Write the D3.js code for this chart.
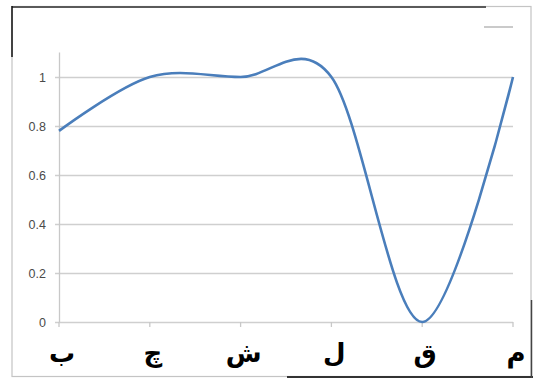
<!DOCTYPE html>
<html><head><meta charset="utf-8">
<script src="https://cdn.jsdelivr.net/npm/d3@7"></script>
<style>html,body{margin:0;padding:0;background:#fff;}svg{display:block;}</style>
</head><body>
<svg id="c" width="533" height="379"></svg>
<script>
const categories = ["ب", "چ", "ش", "ل", "ق", "م"];
const values = [0.78, 1, 1, 1, 0, 1];
const yTicks = [0, 0.2, 0.4, 0.6, 0.8, 1];

const svg = d3.select("#c");
const W = 533, H = 379;

// frame
svg.append("rect").attr("x", 12).attr("y", 6.5).attr("width", 519).attr("height", 370)
  .attr("fill", "none").attr("stroke", "#c4c4c4").attr("stroke-width", 1.2);
svg.append("line").attr("x1", 12).attr("x2", 486).attr("y1", 7).attr("y2", 7)
  .attr("stroke", "#5a5a5a").attr("stroke-width", 2);
svg.append("line").attr("x1", 12).attr("x2", 12).attr("y1", 6).attr("y2", 57)
  .attr("stroke", "#111").attr("stroke-width", 1.5);
svg.append("line").attr("x1", 287).attr("x2", 533).attr("y1", 377).attr("y2", 377)
  .attr("stroke", "#333").attr("stroke-width", 2);
svg.append("line").attr("x1", 531.5).attr("x2", 531.5).attr("y1", 300).attr("y2", 378)
  .attr("stroke", "#444").attr("stroke-width", 1.5);

const x = d3.scalePoint().domain(categories).range([59, 513]);
const y = d3.scaleLinear().domain([0, 1.1]).range([322, 52.5]);

// gridlines
svg.append("g").selectAll("line").data(yTicks).join("line")
  .attr("x1", 55).attr("x2", 513)
  .attr("y1", d => Math.round(y(d)) + 0.5).attr("y2", d => Math.round(y(d)) + 0.5)
  .attr("stroke", "#cfcfcf").attr("stroke-width", 1.3);

// y axis line
svg.append("line").attr("x1", 59.5).attr("x2", 59.5).attr("y1", y(1.1)).attr("y2", y(0))
  .attr("stroke", "#c8c8c8").attr("stroke-width", 1.3);

// y labels
svg.append("g").selectAll("text").data(yTicks).join("text")
  .attr("x", 46).attr("y", d => y(d) + 4.5)
  .attr("text-anchor", "end")
  .attr("font-family", "Liberation Sans, Arial, sans-serif")
  .attr("font-size", 12.5).attr("fill", "#4a4a4a")
  .text(d => d3.format("~g")(d));

// x ticks
svg.append("g").selectAll("line").data(categories).join("line")
  .attr("x1", d => x(d)).attr("x2", d => x(d))
  .attr("y1", y(0)).attr("y2", y(0) + 5)
  .attr("stroke", "#c8c8c8").attr("stroke-width", 1.3);

// x labels
svg.append("g").selectAll("text").data(categories).join("text")
  .attr("x", d => x(d) + 3).attr("y", 362)
  .attr("text-anchor", "middle")
  .attr("font-family", "DejaVu Sans, sans-serif")
  .attr("font-weight", "bold")
  .attr("font-size", 26).attr("fill", "#000")
  .text(d => d);

// series line
const line = d3.line()
  .x((d, i) => x(categories[i]))
  .y(d => y(d))
  .curve(d3.curveCardinal.tension(0));
svg.append("path").datum(values)
  .attr("d", line)
  .attr("fill", "none").attr("stroke", "#4a7ebb").attr("stroke-width", 2.6);

// legend line
svg.append("line").attr("x1", 484).attr("x2", 513).attr("y1", 27).attr("y2", 27)
  .attr("stroke", "#b8b8b8").attr("stroke-width", 1.5);
</script>
</body></html>
